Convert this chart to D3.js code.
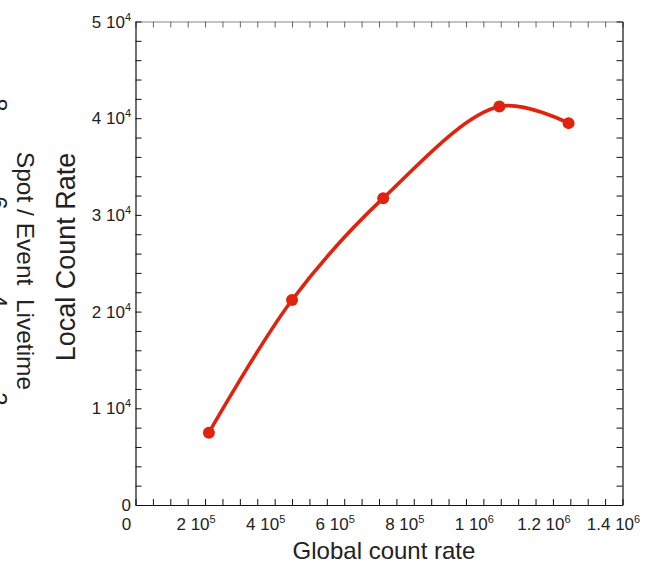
<!DOCTYPE html>
<html>
<head>
<meta charset="utf-8">
<script src="https://cdn.jsdelivr.net/npm/d3@7"></script>
<style>
  body { margin: 0; background: #fff; }
  svg text { font-family: "Liberation Sans", Arial, Helvetica, sans-serif; fill: #222; }
</style>
</head>
<body>
<svg id="chart" width="648" height="563"></svg>
<script>
// measured points
var globalRate = [2.11e5, 4.50e5, 7.12e5, 1.046e6, 1.245e6];
var localRate = [7480, 21200, 31730, 41210, 39490];

// tick labels: mantissa + exponent
var xTickVals = [0, 2e5, 4e5, 6e5, 8e5, 1e6, 1.2e6, 1.4e6];
var xTickMant = ["0", "2", "4", "6", "8", "1", "1.2", "1.4"];
var xTickExp = ["", "5", "5", "5", "5", "6", "6", "6"];
var yTickVals = [0, 1e4, 2e4, 3e4, 4e4, 5e4];
var yTickMant = ["0", "1", "2", "3", "4", "5"];
var yTickExp = ["", "4", "4", "4", "4", "4"];

// leftover digits of a neighbouring axis (clipped at the page edge)
var ghostDigits = ["8", "6", "4", "2"];
var ghostY = [105, 203, 301, 399];

var svg = d3.select("#chart");
var pLeft = 135.5, pRight = 622.5, pTop = 21.5, pBottom = 505;
var red = "#e0230f";

var x = d3.scaleLinear().domain([0, 1.4e6]).range([pLeft, pRight]);
var y = d3.scaleLinear().domain([0, 5e4]).range([pBottom, pTop]);

var xMinor = d3.range(0, 1.4e6 + 1, 5e4);
var yMinor = d3.range(0, 5e4 + 1, 2e3);

// frame with inward ticks
var bottomAxis = d3.axisBottom(x).tickValues(xMinor).tickSize(-6).tickSizeOuter(0).tickFormat("");
svg.append("g").attr("transform", "translate(0," + pBottom + ")").call(bottomAxis);
var topAxis = d3.axisTop(x).tickValues(xMinor).tickSize(-6).tickSizeOuter(0).tickFormat("");
svg.append("g").attr("class", "topaxis").attr("transform", "translate(0," + pTop + ")").call(topAxis);
var leftAxis = d3.axisLeft(y).tickValues(yMinor).tickSize(-6).tickSizeOuter(0).tickFormat("");
svg.append("g").attr("transform", "translate(" + pLeft + ",0)").call(leftAxis);
var rightAxis = d3.axisRight(y).tickValues(yMinor).tickSize(-6).tickSizeOuter(0).tickFormat("");
svg.append("g").attr("transform", "translate(" + pRight + ",0)").call(rightAxis);

svg.selectAll(".domain").attr("stroke", "#111").attr("stroke-width", 1.2);
svg.selectAll(".tick line").attr("stroke", "#111");
svg.select(".topaxis .domain").attr("stroke", "#888");
svg.selectAll(".topaxis .tick line").attr("stroke", "#666");

// tick labels
xTickVals.forEach(function (v, i) {
  var t = svg.append("text")
    .attr("x", x(v) - 9)
    .attr("y", 530)
    .attr("text-anchor", "middle")
    .style("font-size", "17px");
  t.append("tspan").text(xTickMant[i] + (xTickExp[i] ? " 10" : ""));
  if (xTickExp[i]) {
    t.append("tspan").attr("dy", -7).style("font-size", "11px").text(xTickExp[i]);
  }
});

yTickVals.forEach(function (v, i) {
  var t = svg.append("text")
    .attr("x", 131)
    .attr("y", y(v) + 6)
    .attr("text-anchor", "end")
    .style("font-size", "17px");
  t.append("tspan").text(yTickMant[i] + (yTickExp[i] ? " 10" : ""));
  if (yTickExp[i]) {
    t.append("tspan").attr("dy", -7).style("font-size", "11px").text(yTickExp[i]);
  }
});

// axis titles
svg.append("text")
  .attr("x", 384).attr("y", 559)
  .attr("text-anchor", "middle")
  .style("font-size", "24px")
  .text("Global count rate");

svg.append("text")
  .attr("transform", "translate(75," + 257 + ")rotate(-90)")
  .attr("text-anchor", "middle")
  .style("font-size", "27px")
  .text("Local Count Rate");

svg.append("text")
  .attr("transform", "translate(17," + 271 + ")rotate(90)")
  .attr("text-anchor", "middle")
  .style("font-size", "24.5px")
  .attr("xml:space", "preserve")
  .text("Spot / Event  Livetime");

ghostDigits.forEach(function (d, i) {
  svg.append("text")
    .attr("transform", "translate(-10," + ghostY[i] + ")rotate(90)")
    .attr("text-anchor", "middle")
    .style("font-size", "24px")
    .text(d);
});

// curve + markers
var pts = globalRate.map(function (g, i) { return [g, localRate[i]]; });
var line = d3.line()
  .x(function (d) { return x(d[0]); })
  .y(function (d) { return y(d[1]); })
  .curve(d3.curveCatmullRom.alpha(0.5));

svg.append("path")
  .datum(pts)
  .attr("d", line)
  .attr("fill", "none")
  .attr("stroke", red)
  .attr("stroke-width", 3.6)
  .attr("stroke-linecap", "round");

svg.selectAll("circle.pt")
  .data(pts)
  .enter()
  .append("circle")
  .attr("class", "pt")
  .attr("cx", function (d) { return x(d[0]); })
  .attr("cy", function (d) { return y(d[1]); })
  .attr("r", 6)
  .attr("fill", red);
</script>
</body>
</html>
